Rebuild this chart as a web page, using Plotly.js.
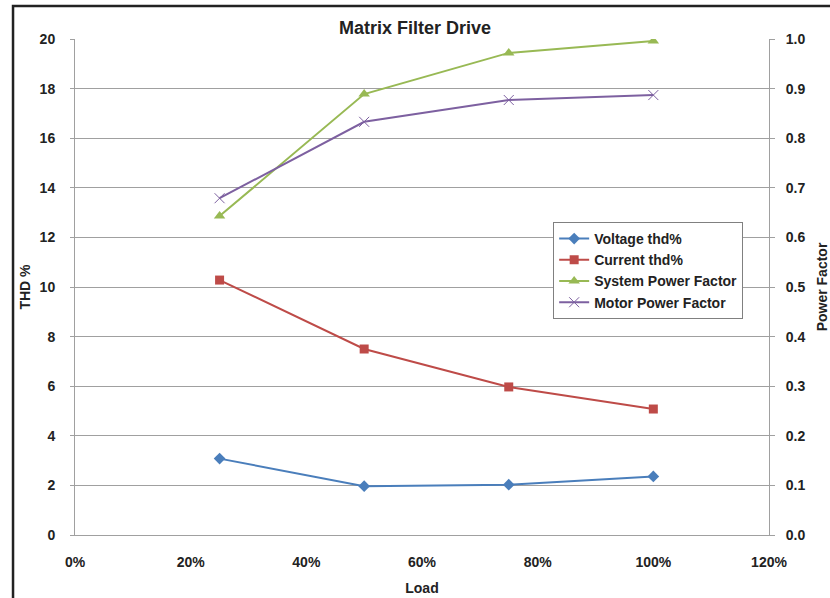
<!DOCTYPE html>
<html>
<head>
<meta charset="utf-8">
<script src="https://cdn.plot.ly/plotly-3.0.1.min.js"></script>
<style>html,body{margin:0;padding:0;background:#fff;}#chart{width:830px;height:598px;}</style>
</head>
<body>
<div id="chart"></div>
<script>
const load = [0.25, 0.50, 0.75, 1.00];
const voltageThd = [3.08, 1.97, 2.03, 2.36];
const currentThd = [10.28, 7.5, 5.97, 5.08];
const systemPF = [0.643, 0.889, 0.972, 0.996];
const motorPF = [0.679, 0.833, 0.877, 0.887];
const xTicks = [0, 0.2, 0.4, 0.6, 0.8, 1.0, 1.2];

const FONT = '"Liberation Sans", Arial, sans-serif';
const TF = {family: FONT, size: 14, color: '#222', weight: 'bold'};
const traces = [
  {x: load, y: voltageThd, name: 'Voltage thd%', mode: 'lines+markers', yaxis: 'y',
   line: {color: '#4A7EBB', width: 2}, marker: {symbol: 'diamond', size: 9, color: '#4A7EBB'}},
  {x: load, y: currentThd, name: 'Current thd%', mode: 'lines+markers', yaxis: 'y',
   line: {color: '#BE4B48', width: 2}, marker: {symbol: 'square', size: 9, color: '#BE4B48'}},
  {x: load, y: systemPF, name: 'System Power Factor', mode: 'lines+markers', yaxis: 'y2',
   line: {color: '#98B954', width: 2}, marker: {symbol: 'triangle-up', size: 10, color: '#98B954'}},
  {x: load, y: motorPF, name: 'Motor Power Factor', mode: 'lines+markers', yaxis: 'y2',
   line: {color: '#7D60A0', width: 2}, marker: {symbol: 'x-thin', size: 10, color: '#7D60A0', line: {color: '#7D60A0', width: 1}}}
];

const layout = {
  width: 830, height: 598,
  margin: {l: 75, r: 61, t: 39, b: 63},
  paper_bgcolor: '#fff', plot_bgcolor: '#fff',
  font: {family: FONT, color: '#222', size: 14},
  title: {text: '<b>Matrix Filter Drive</b>', x: 0.5, xanchor: 'center', y: 0.953, yanchor: 'middle',
          font: {family: FONT, size: 18, color: '#222'}},
  xaxis: {range: [0, 1.2], tickvals: xTicks, tickformat: '.0%', showgrid: false, zeroline: false,
          showline: true, linecolor: '#A0A0A0', linewidth: 1, ticks: '',
          tickfont: TF, ticklabelstandoff: 14,
          title: {text: '<b>Load</b>', font: {family: FONT, size: 14, color: '#222'}, standoff: 14}},
  yaxis: {range: [0, 20], dtick: 2, showgrid: true, gridcolor: '#A0A0A0', gridwidth: 1, zeroline: false,
          showline: true, linecolor: '#A0A0A0', ticks: 'outside', ticklen: 4, tickcolor: '#A0A0A0',
          tickfont: TF, ticklabelstandoff: 12,
          title: {text: '<b>THD %</b>', font: {family: FONT, size: 14, color: '#222'}, standoff: 5}},
  yaxis2: {range: [0, 1.0], dtick: 0.1, tickformat: '.1f', overlaying: 'y', side: 'right', showgrid: false,
           zeroline: false, showline: true, linecolor: '#A0A0A0', ticks: 'outside', ticklen: 5, tickcolor: '#A0A0A0',
           tickfont: TF, ticklabelstandoff: 8,
           title: {text: '<b>Power Factor</b>', font: {family: FONT, size: 14, color: '#222'}, standoff: 12}},
  legend: {x: 0.689, y: 0.631, xanchor: 'left', yanchor: 'top', bgcolor: '#fff', bordercolor: '#808080',
           borderwidth: 1, font: TF, tracegroupgap: 0, itemwidth: 30},
  shapes: [{type: 'rect', xref: 'paper', yref: 'paper', x0: -0.0893, x1: 1.1, y0: -0.14, y1: 1.0665,
            line: {color: '#222', width: 2.5}, fillcolor: 'rgba(0,0,0,0)', layer: 'below'}],
  showlegend: true
};
Plotly.newPlot('chart', traces, layout, {displayModeBar: false, staticPlot: true});
</script>
</body>
</html>
